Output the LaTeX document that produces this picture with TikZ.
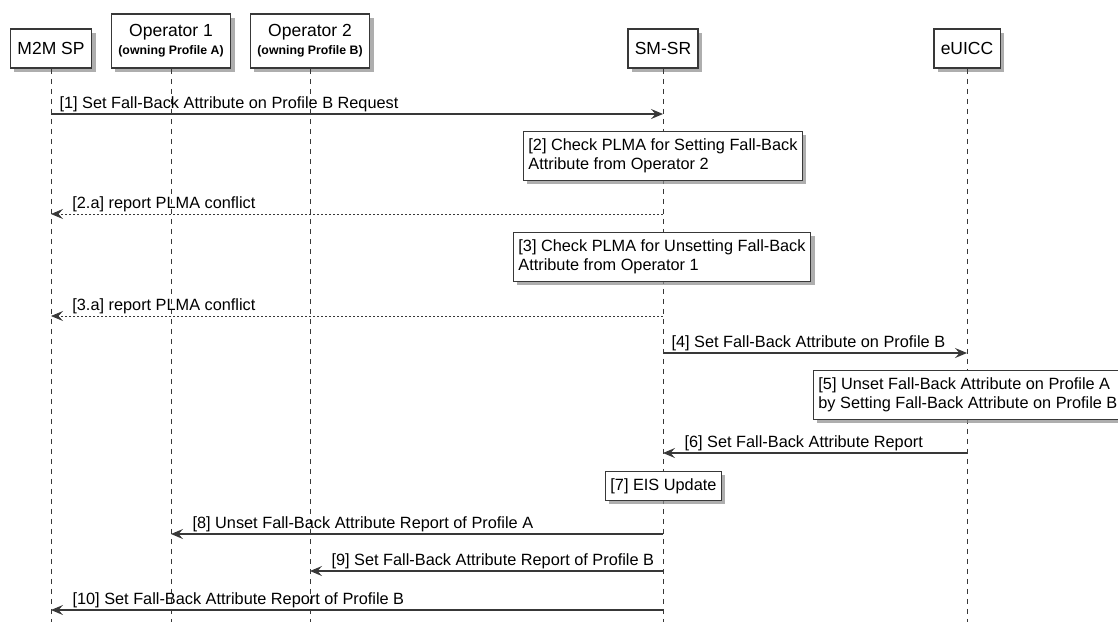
\documentclass[tikz,border=0pt]{standalone}
\usepackage{fontspec}
\setmainfont{Liberation Sans}
\usetikzlibrary{arrows.meta, shadows}
\definecolor{umlline}{HTML}{383838}
\definecolor{umlshadow}{HTML}{8C8C8C}
\newcommand{\msgfont}{\fontsize{16.3}{19.5}\selectfont}
\newcommand{\headfont}{\fontsize{17.5}{20}\selectfont}
\newcommand{\ownfont}{\fontsize{12.3}{13}\selectfont\bfseries}
\tikzset{
  umlshade/.style={drop shadow={shadow xshift=4pt, shadow yshift=-4pt, fill=umlshadow, opacity=0.7}},
  participant/.style={draw=umlline, line width=1.5pt, fill=white, inner xsep=7pt,
    minimum height=39pt, font=\headfont, align=center, umlshade},
  lifeline/.style={draw=umlline, line width=0.8pt, dash pattern=on 5pt off 5pt},
  msg/.style={draw=umlline, line width=1.1pt, -{Stealth[length=12pt,width=10pt,inset=4.5pt]}},
  reply/.style={msg, line width=0.8pt, dash pattern=on 2pt off 2pt},
  lblbase/.style={anchor=base west, yshift=6pt, font=\msgfont, inner sep=0pt},
  lblright/.style={lblbase, xshift=8pt},
  lblleft/.style={lblbase, xshift=21pt},
  umlnote/.style={draw=umlline, line width=0.8pt, fill=white, anchor=north west, align=left,
    font=\msgfont, inner xsep=5pt, inner ysep=0pt, minimum height=49pt, umlshade}
}

\begin{document}
\begin{tikzpicture}[x=1pt, y=-1pt]
  \useasboundingbox (0,0) rectangle (1118,622);
  \node[participant] (m2m) at (51,48.5) {M2M SP};
  \node[participant, minimum height=54pt] (op1) at (171,41) {Operator 1\\[-2pt]{\ownfont (owning Profile A)}};
  \node[participant, minimum height=54pt] (op2) at (310,41) {Operator 2\\[-2pt]{\ownfont (owning Profile B)}};
  \node[participant] (smsr) at (663,48.5) {SM-SR};
  \node[participant] (euicc) at (967,48.5) {eUICC};
  \foreach \p in {m2m,op1,op2,smsr,euicc}
    \draw[lifeline] (\p.south) -- (\p.south |- 0,622);

  \draw[msg] (m2m |- 0,114) -- node[lblright, pos=0]{[1] Set Fall-Back Attribute on Profile B Request} (smsr |- 0,114);
  \node[umlnote] (n2) at (523,131) {[2] Check PLMA for Setting Fall-Back\\Attribute from Operator 2};
  \draw[reply] (smsr |- 0,214) -- node[lblleft, pos=1]{[2.a] report PLMA conflict} (m2m |- 0,214);
  \node[umlnote] (n3) at (513,232) {[3] Check PLMA for Unsetting Fall-Back\\Attribute from Operator 1};
  \draw[reply] (smsr |- 0,316) -- node[lblleft, pos=1]{[3.a] report PLMA conflict} (m2m |- 0,316);
  \draw[msg] (smsr |- 0,353) -- node[lblright, pos=0]{[4] Set Fall-Back Attribute on Profile B} (euicc |- 0,353);
  \node[umlnote] (n5) at (813,370) {[5] Unset Fall-Back Attribute on Profile A\\by Setting Fall-Back Attribute on Profile B};
  \draw[msg] (euicc |- 0,453) -- node[lblleft, pos=1]{[6] Set Fall-Back Attribute Report} (smsr |- 0,453);
  \node[umlnote, minimum height=29pt] (n7) at (605,471) {[7] EIS Update};
  \draw[msg] (smsr |- 0,534) -- node[lblleft, pos=1]{[8] Unset Fall-Back Attribute Report of Profile A} (op1 |- 0,534);
  \draw[msg] (smsr |- 0,571) -- node[lblleft, pos=1]{[9] Set Fall-Back Attribute Report of Profile B} (op2 |- 0,571);
  \draw[msg] (smsr |- 0,610) -- node[lblleft, pos=1]{[10] Set Fall-Back Attribute Report of Profile B} (m2m |- 0,610);
\end{tikzpicture}
\end{document}
